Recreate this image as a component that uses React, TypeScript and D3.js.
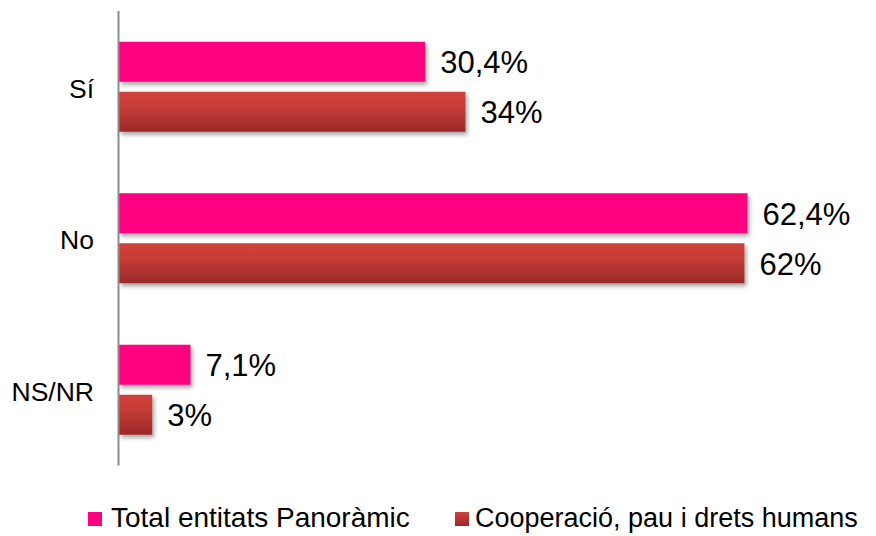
import React from "react";
import * as d3 from "d3";

const categories = ["Sí", "No", "NS/NR"];
const seriesNames = ["Total entitats Panoràmic", "Cooperació, pau i drets humans"];
const totalValues = [30.4, 62.4, 7.1];
const coopValues = [34.4, 62.1, 3.3];

const W = 876;
const H = 536;
const FONT = "'Liberation Sans', Arial, sans-serif";

export default function App() {
  const x = d3.scaleLinear().domain([0, 70]).range([119, 824]);
  const y = d3
    .scaleBand<string>()
    .domain(categories)
    .range([11, 465.5])
    .paddingInner(0.406)
    .paddingOuter(0.203);
  const inner = d3
    .scaleBand<number>()
    .domain([0, 1])
    .range([0, y.bandwidth()])
    .paddingInner(0.2)
    .paddingOuter(0);

  const fmtTotal = (v: number) => d3.format(".1f")(v).replace(".", ",") + "%";
  const fmtCoop = (v: number) => d3.format(".0f")(v) + "%";

  const series = [
    { name: seriesNames[0], values: totalValues, fill: "#FF0080", fmt: fmtTotal },
    { name: seriesNames[1], values: coopValues, fill: "url(#redGrad)", fmt: fmtCoop },
  ];

  return (
    <svg
      width={W}
      height={H}
      style={{ position: "absolute", left: 0, top: 0, background: "#fff" }}
      fontFamily={FONT}
    >
      <defs>
        <linearGradient id="redGrad" x1="0" y1="0" x2="0" y2="1">
          <stop offset="0" stopColor="#CF423B" />
          <stop offset="0.35" stopColor="#C83D37" />
          <stop offset="1" stopColor="#9B2929" />
        </linearGradient>
        <linearGradient id="redGradLeg" x1="0" y1="0" x2="0" y2="1">
          <stop offset="0" stopColor="#CF423B" />
          <stop offset="1" stopColor="#9B2929" />
        </linearGradient>
        <filter id="shadow" x="-10%" y="-20%" width="130%" height="160%">
          <feDropShadow dx="2" dy="3" stdDeviation="2" floodColor="#000" floodOpacity="0.35" />
        </filter>
      </defs>
      <rect x={0} y={0} width={W} height={H} fill="#fff" />

      {series.map((s, si) =>
        categories.map((c, ci) => {
          const yTop = (y(c) as number) + (inner(si) as number);
          const v = s.values[ci];
          return (
            <g key={`${si}-${ci}`}>
              <rect
                x={x(0)}
                y={yTop}
                width={x(v) - x(0)}
                height={inner.bandwidth()}
                fill={s.fill}
                filter="url(#shadow)"
              />
              <text
                x={x(v) + 15}
                y={yTop + inner.bandwidth() / 2 + 11.5}
                fontSize={31}
                fill="#000"
              >
                {s.fmt(v)}
              </text>
            </g>
          );
        })
      )}

      <line x1={118.5} x2={118.5} y1={11} y2={465.5} stroke="#8C8C8C" strokeWidth={2} />

      {categories.map((c) => (
        <text
          key={c}
          x={94}
          y={(y(c) as number) + y.bandwidth() / 2 + 11}
          textAnchor="end"
          fontSize={26.5}
          fill="#000"
        >
          {c}
        </text>
      ))}

      <g>
        <rect x={88} y={512} width={14} height={14} fill="#FF0080" />
        <text x={111} y={527} fontSize={28} fill="#000">
          {seriesNames[0]}
        </text>
        <rect x={455} y={512} width={14} height={14} fill="url(#redGradLeg)" />
        <text x={475} y={527} fontSize={27} fill="#000">
          {seriesNames[1]}
        </text>
      </g>
    </svg>
  );
}
